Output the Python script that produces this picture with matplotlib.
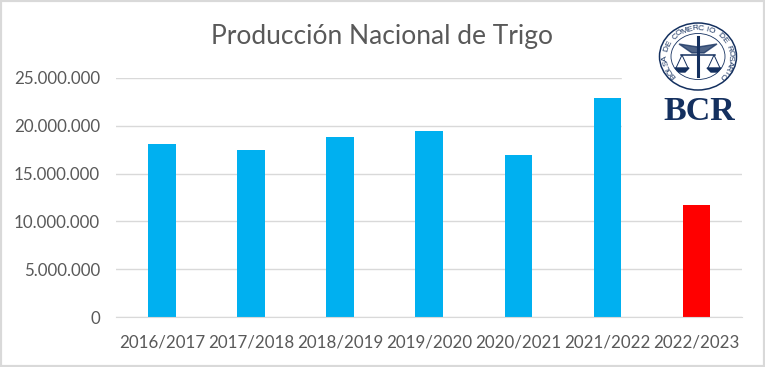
import numpy as np
import matplotlib.pyplot as plt
from matplotlib.patches import Ellipse, Rectangle, Polygon

plt.rcParams["font.family"] = ["Lato", "DejaVu Sans"]

W, H = 765, 367

campaigns = ["2016/2017", "2017/2018", "2018/2019", "2019/2020",
             "2020/2021", "2021/2022", "2022/2023"]
produccion = [18100000, 17500000, 18850000, 19450000, 16950000, 22950000, 11750000]
bar_colors = ["#00b0f0"] * 6 + ["#ff0000"]
yticks = [0, 5000000, 10000000, 15000000, 20000000, 25000000]
title = "Producción Nacional de Trigo"
seal_text = "BOLSA DE COMERCIO DE ROSARIO"
NAVY = "#14305f"


def fmt(v):
    return f"{v:,.0f}".replace(",", ".")


def draw_logo(fig):
    # pixel-space overlay, y flipped so numbers read like the picture
    ax = fig.add_axes([0, 0, 1, 1], facecolor="none")
    ax.set_xlim(0, W)
    ax.set_ylim(H, 0)
    ax.axis("off")
    # logo image sat on a white box that hides the top two gridlines
    ax.add_patch(Rectangle((622, 15), 122, 125, color="white", zorder=1))
    cx, cy = 698, 56.5
    ax.add_patch(Ellipse((cx, cy), 77, 67, fc="none", ec=NAVY, lw=1.1, zorder=2))
    ax.add_patch(Ellipse((cx, cy), 54, 46, fc="none", ec=NAVY, lw=0.6, zorder=2))
    # lettering round the ring, starting bottom left going clockwise
    angles = np.linspace(222, -42, len(seal_text))
    for ch, a in zip(seal_text, angles):
        x = cx + 32.5 * np.cos(np.radians(a))
        y = cy - 28 * np.sin(np.radians(a))
        ax.text(x, y, ch, fontsize=6, color=NAVY, ha="center", va="center",
                rotation=a - 90, family="Liberation Sans", zorder=3)
    # wings, staff and scales in the middle
    ax.plot([cx, cx], [37, 76], color=NAVY, lw=2.2, zorder=3)
    ax.add_patch(Polygon([(cx - 19, 44), (cx, 47), (cx + 19, 44), (cx + 6, 53), (cx - 6, 53)],
                         color=NAVY, alpha=0.75, zorder=3))
    ax.plot([cx - 17, cx + 17], [55, 55], color=NAVY, lw=1.1, zorder=3)
    for sx in (cx - 16, cx + 16):
        ax.plot([sx - 6, sx, sx + 6], [68, 55, 68], color=NAVY, lw=0.7, zorder=3)
        ax.add_patch(Polygon([(sx - 7, 68), (sx + 7, 68), (sx + 3, 72), (sx - 3, 72)],
                             color=NAVY, zorder=3))
    ax.text(cx + 1, 111, "BCR", fontsize=24.5, color=NAVY, ha="center", va="center",
            family="Liberation Serif", fontweight="bold", zorder=3)


fig = plt.figure(figsize=(W / 100, H / 100), dpi=100, facecolor="white")
ax = fig.add_axes([116 / W, 1 - 317 / H, (742 - 116) / W, (317 - 78) / H])

x = np.arange(len(campaigns))
ax.bar(x, produccion, width=0.31, color=bar_colors, zorder=2)

ax.set_xlim(-0.516, 6.51)
ax.set_ylim(0, 25000000)
ax.set_yticks(yticks)
ax.set_yticklabels([fmt(v) for v in yticks])
ax.set_xticks(x)
ax.set_xticklabels(campaigns)
ax.tick_params(axis="both", length=0, labelsize=12.2, labelcolor="#595959")
ax.tick_params(axis="x", pad=12.5)
ax.tick_params(axis="y", pad=11.5)
ax.grid(axis="y", color="#d9d9d9", lw=1, zorder=0)
ax.set_axisbelow(True)
for s in ("top", "right", "left"):
    ax.spines[s].set_visible(False)
ax.spines["bottom"].set_color("#d9d9d9")

fig.text(382 / W, 1 - 36.5 / H, title, fontsize=19, color="#595959",
         ha="center", va="center")

draw_logo(fig)

# outer frame of the pasted chart
fig.add_artist(Rectangle((0, 0), 1, 1, transform=fig.transFigure, fc="none",
                         ec="#d9d9d9", lw=3))

fig.savefig("out.png", dpi=100)
